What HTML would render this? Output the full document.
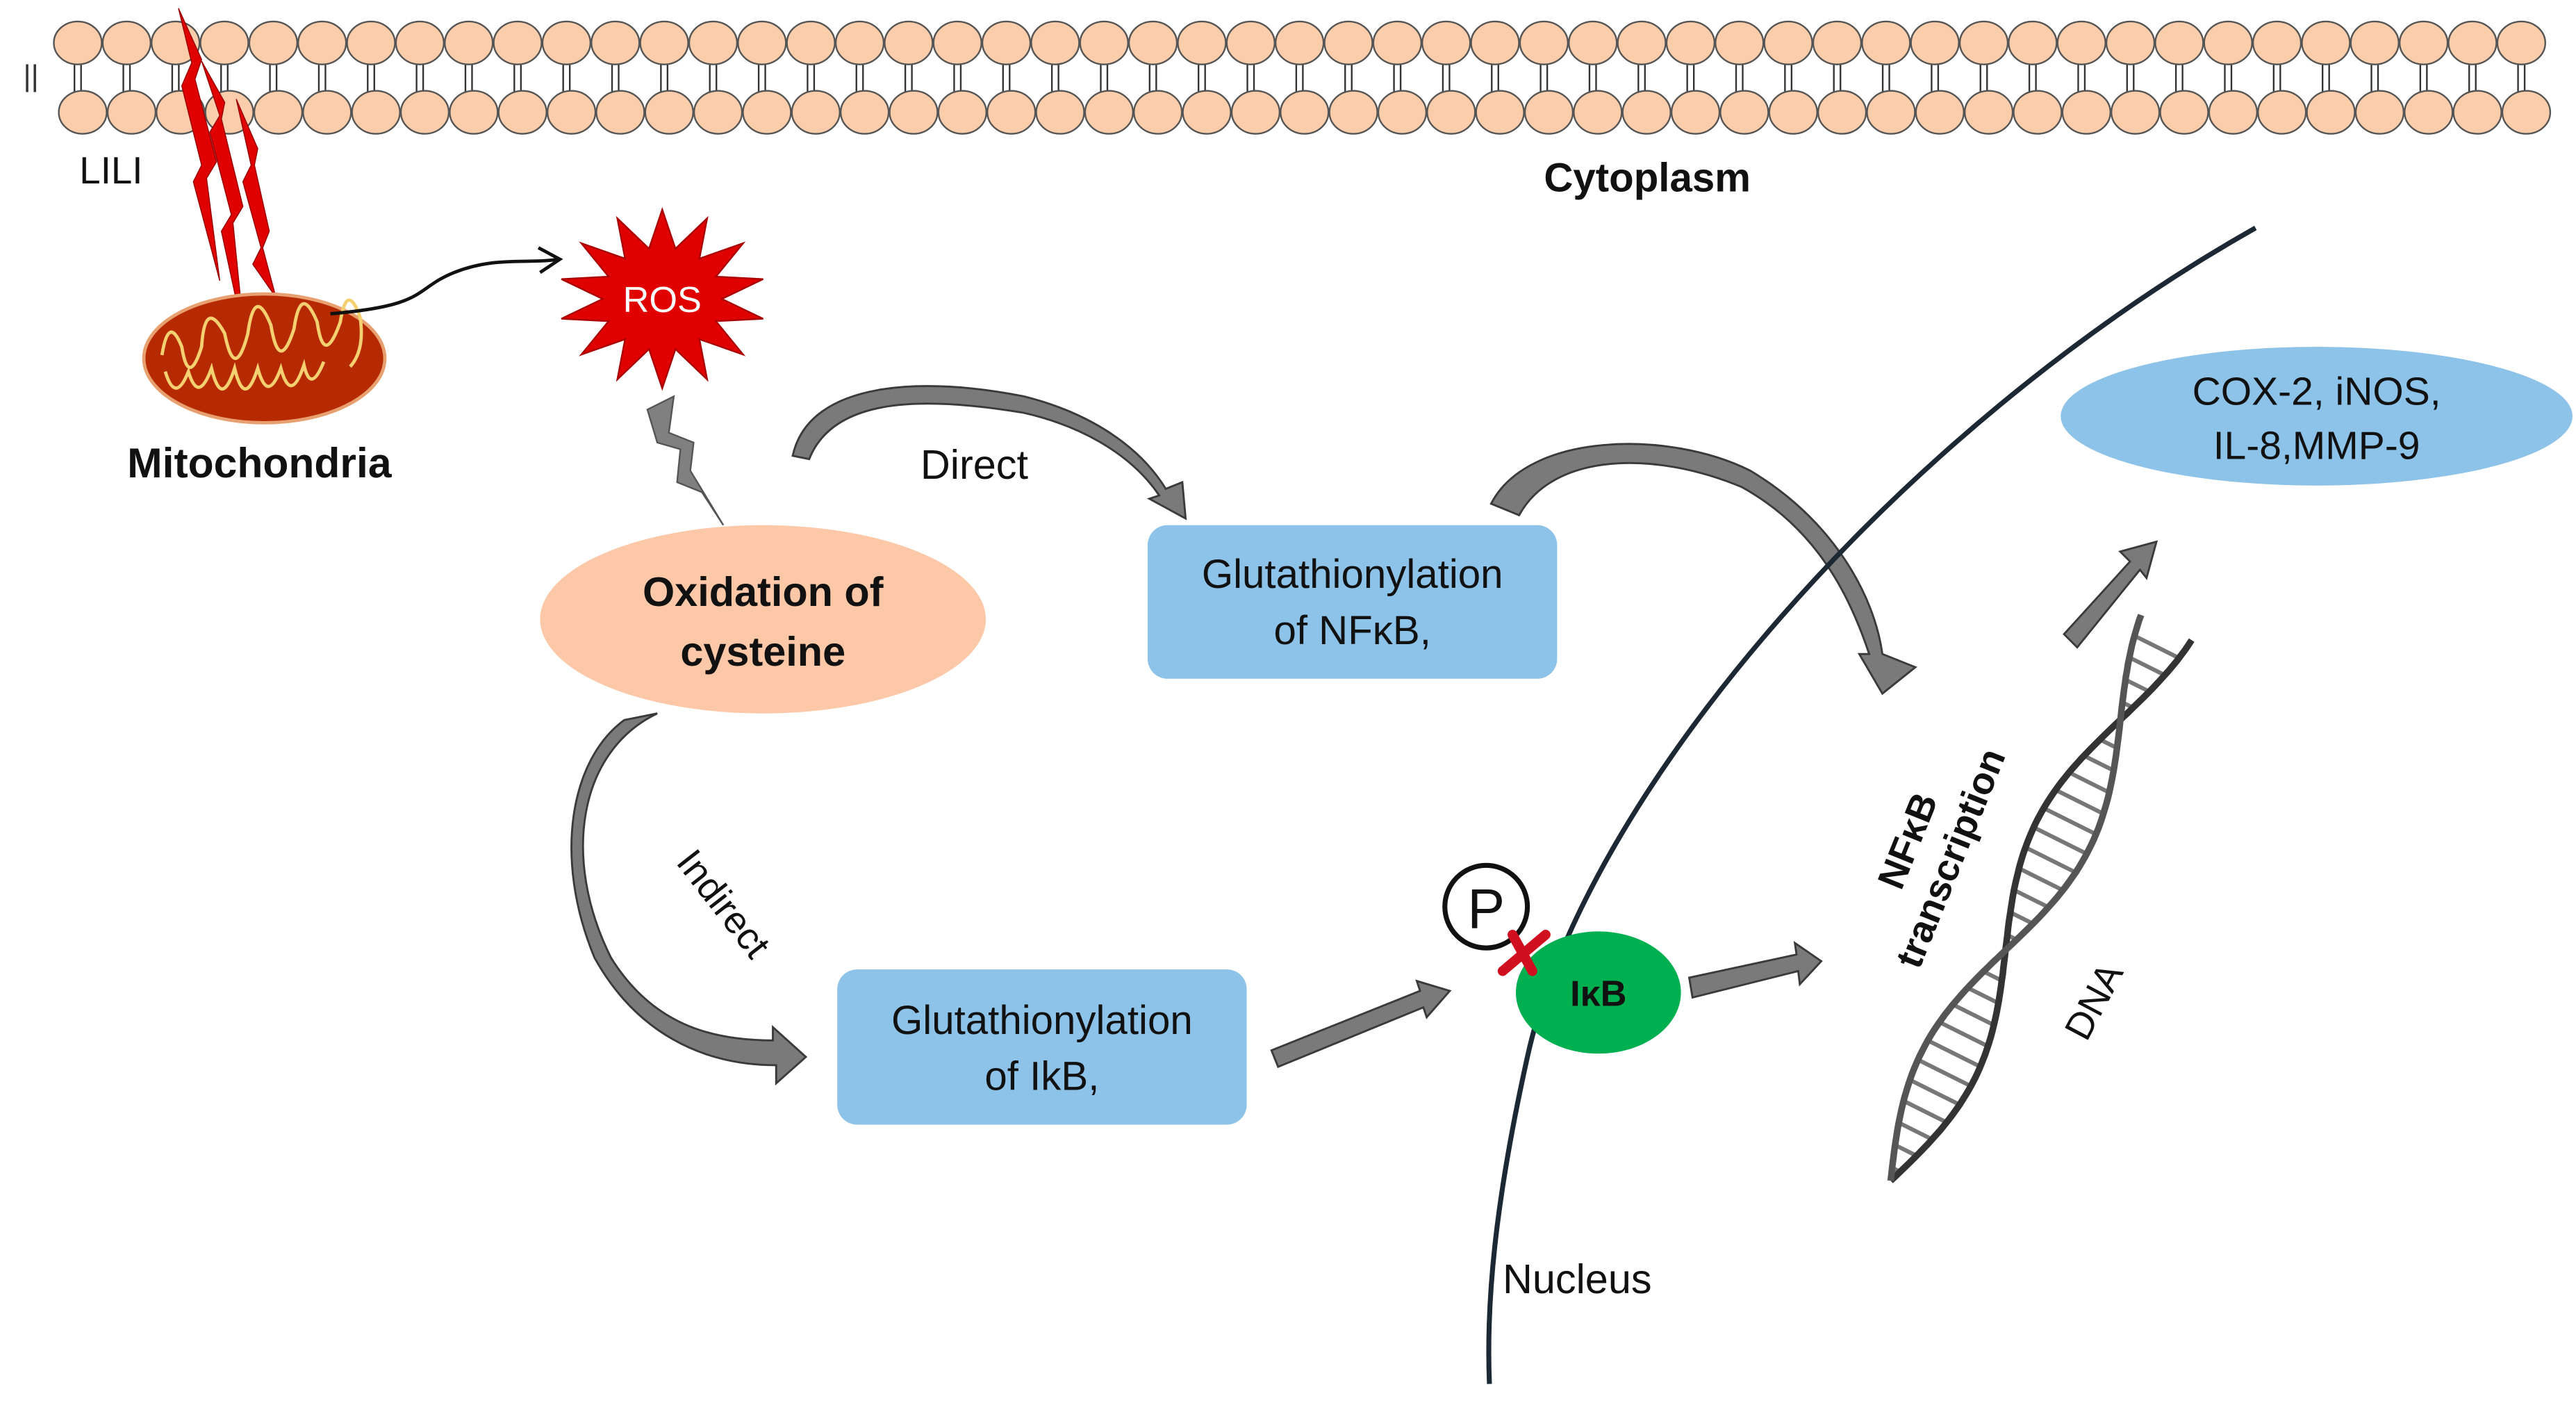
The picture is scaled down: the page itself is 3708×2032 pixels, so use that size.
<!DOCTYPE html>
<html><head><meta charset="utf-8"><style>
html,body{margin:0;padding:0;background:#fff;}
svg{display:block;}
text{font-family:"Liberation Sans",sans-serif;}
</style></head><body>
<svg id="s" width="3708" height="2032" viewBox="0 0 1560 855" xmlns="http://www.w3.org/2000/svg">
<rect width="1560" height="855" fill="#fff"/>
<g id="mem"></g>
<text x="14" y="52" font-size="18" fill="#333">||</text>
<!-- lightning bolts -->
<g fill="#e00000" stroke="#900" stroke-width="0.6">
<polygon points="108,5 116,38 110,52 122,100 117,110 133,170 125,108 131,98 118,48 122,36"/>
<polygon points="122,37 133,70 127,80 140,130 134,140 148,205 141,135 147,125 134,72 136,62"/>
<polygon points="143,60 152,100 147,110 158,150 153,160 167,180 159,150 163,140 154,100 156,90"/>
</g>
<text x="48" y="111" font-size="23" fill="#111">LILI</text>
<text x="935" y="116" font-size="24.5" font-weight="bold" fill="#111">Cytoplasm</text>
<!-- mitochondria -->
<ellipse cx="160" cy="217" rx="73" ry="39" fill="#b52a00" stroke="#e8a070" stroke-width="2"/>
<path d="M98,215 q4,-25 12,-5 q4,25 12,0 q2,-30 14,-8 q6,30 14,0 q4,-30 14,-5 q5,30 14,2 q4,-28 14,-4 q4,28 14,0 q4,-25 12,-3 q3,20 -6,30 M100,225 q6,20 14,0 q6,20 14,-2 q6,25 14,0 q6,25 14,0 q6,22 14,0 q6,22 14,-2 q4,18 12,-2" fill="none" stroke="#f5d070" stroke-width="2"/>
<text x="157" y="289" font-size="25.5" font-weight="bold" text-anchor="middle" fill="#111">Mitochondria</text>
<path d="M200,190 C260,185 250,175 275,165 C300,155 320,160 338,157" fill="none" stroke="#111" stroke-width="2"/>
<polyline points="326,150 339,157 327,165" fill="none" stroke="#111" stroke-width="2"/>
<!-- ROS -->
<polygon id="ros" fill="#e00000" stroke="#a00" stroke-width="1"/>
<text x="401" y="189" font-size="22" text-anchor="middle" fill="#fff">ROS</text>
<!-- gray bolt -->
<polygon points="392,248 408,240 405,262 420,268 418,285 438,318 425,298 410,292 412,272 398,268" fill="#808080" stroke="#555" stroke-width="1"/>
<!-- oxidation -->
<ellipse cx="462" cy="375" rx="135" ry="57" fill="#fcc8a8"/>
<text x="462" y="367" font-size="25" font-weight="bold" text-anchor="middle" fill="#111">Oxidation of</text>
<text x="462" y="403" font-size="25" font-weight="bold" text-anchor="middle" fill="#111">cysteine</text>
<g fill="#7a7a7a" stroke="#3a3a3a" stroke-width="1.2">
<path d="M480,276 C490,230 560,228 620,240 C660,250 690,270 706,296 L716,292 L718,314 L696,302 L702,300 C685,275 655,258 620,250 C560,240 505,240 490,278 Z"/>
<path d="M903,305 C925,262 1010,260 1060,285 C1110,315 1135,360 1140,396 L1160,404 L1140,420 L1126,396 L1132,396 C1120,360 1100,320 1055,295 C1000,272 940,275 920,312 Z"/>
<path d="M398,432 C350,455 340,520 370,580 C395,620 430,630 468,630 L468,622 L488,640 L470,656 L470,645 C425,645 385,625 360,580 C335,520 345,460 378,436 Z"/>
<polygon points="770,636 860,600 858,594 878,600 864,616 862,610 774,646"/>
<polygon points="1023,592 1088,578 1087,571 1103,582 1090,596 1089,588 1025,604"/>
<polygon points="1250,384 1290,340 1284,334 1306,328 1300,350 1296,345 1258,392"/>
</g>
<!-- boxes -->
<rect x="695" y="318" width="248" height="93" rx="12" fill="#8dc3e8"/>
<text x="819" y="356" font-size="24.5" text-anchor="middle" fill="#111">Glutathionylation</text>
<text x="819" y="390" font-size="24.5" text-anchor="middle" fill="#111">of NFκB,</text>
<rect x="507" y="587" width="248" height="94" rx="12" fill="#8dc3e8"/>
<text x="631" y="626" font-size="24.5" text-anchor="middle" fill="#111">Glutathionylation</text>
<text x="631" y="660" font-size="24.5" text-anchor="middle" fill="#111">of IkB,</text>
<text transform="translate(432,552) rotate(52)" font-size="23" text-anchor="middle" fill="#111">Indirect</text>
<text x="590" y="290" font-size="25" text-anchor="middle" fill="#111">Direct</text>
<!-- nucleus line -->
<path d="M1366,138 C1150,260 960,480 925,640 C905,730 900,790 902,838" fill="none" stroke="#1c2833" stroke-width="3"/>
<text x="910" y="783" font-size="25" fill="#111">Nucleus</text>
<!-- COX -->
<ellipse cx="1403" cy="252" rx="155" ry="42" fill="#8dc3e8"/>
<text x="1403" y="245" font-size="24" text-anchor="middle" fill="#111">COX-2, iNOS,</text>
<text x="1403" y="278" font-size="24" text-anchor="middle" fill="#111">IL-8,MMP-9</text>
<!-- P and IkB -->
<circle cx="900" cy="549" r="25" fill="#fff" stroke="#111" stroke-width="3"/>
<text x="900" y="562" font-size="34" text-anchor="middle" fill="#111">P</text>
<ellipse cx="968" cy="601" rx="50" ry="37" fill="#00b050"/>
<text x="968" y="609" font-size="22" font-weight="bold" text-anchor="middle" fill="#111">IκB</text>
<g stroke="#d01020" stroke-width="6" stroke-linecap="round"><line x1="910" y1="588" x2="936" y2="566"/><line x1="916" y1="566" x2="928" y2="588"/></g>
<text transform="translate(1170,515) rotate(-68)" font-size="23" font-weight="bold" text-anchor="middle" fill="#111"><tspan x="0" dy="-8">NFκB</tspan><tspan x="0" dy="28">transcription</tspan></text>
<text transform="translate(1275,610) rotate(-62)" font-size="23" text-anchor="middle" fill="#111">DNA</text>
<g id="dna"></g>
</svg>
<script>
var ns="http://www.w3.org/2000/svg";
function el(n,a,p){var e=document.createElementNS(ns,n);for(var k in a)e.setAttribute(k,a[k]);(p||document.getElementById('s')).appendChild(e);return e;}
var m=document.getElementById('mem');
for(var i=0;i<51;i++){var x=47+i*29.6;
 el('line',{x1:x-2,y1:38,x2:x-2,y2:56,stroke:'#333','stroke-width':1},m);
 el('line',{x1:x+2,y1:38,x2:x+2,y2:56,stroke:'#333','stroke-width':1},m);
 el('ellipse',{cx:x,cy:26,rx:14.5,ry:13,fill:'#fbcdaa',stroke:'#555','stroke-width':1},m);
 el('ellipse',{cx:x+3,cy:68,rx:14.5,ry:13,fill:'#fbcdaa',stroke:'#555','stroke-width':1},m);}
var pts=[],cx=401,cy=181;for(var j=0;j<28;j++){var r=j%2?38:66;var a=j*Math.PI/14-Math.PI/2;pts.push((cx+r*Math.cos(a)*0.95).toFixed(1)+','+(cy+r*Math.sin(a)*0.82).toFixed(1));}
document.getElementById('ros').setAttribute('points',pts.join(' '));
var d=document.getElementById('dna');
var x0=1145,y0=715,x1=1312,y1=380,L=Math.hypot(x1-x0,y1-y0),ux=(x1-x0)/L,uy=(y1-y0)/L,px=-uy,py=ux;
var s1=[],s2=[];
for(var t=0;t<=1.0001;t+=0.01){var bx=x0+(x1-x0)*t,by=y0+(y1-y0)*t,w=18*Math.sin(t*Math.PI*2.4);
 s1.push((bx+px*w).toFixed(1)+','+(by+py*w).toFixed(1));s2.push((bx-px*w).toFixed(1)+','+(by-py*w).toFixed(1));}
for(var t=0.02;t<1;t+=0.035){var bx=x0+(x1-x0)*t,by=y0+(y1-y0)*t,w=18*Math.sin(t*Math.PI*2.4);
 el('line',{x1:bx+px*w,y1:by+py*w,x2:bx-px*w,y2:by-py*w,stroke:'#777','stroke-width':2.5},d);}
el('polyline',{points:s1.join(' '),fill:'none',stroke:'#333','stroke-width':4},d);
el('polyline',{points:s2.join(' '),fill:'none',stroke:'#555','stroke-width':4},d);
</script>
</body></html>
